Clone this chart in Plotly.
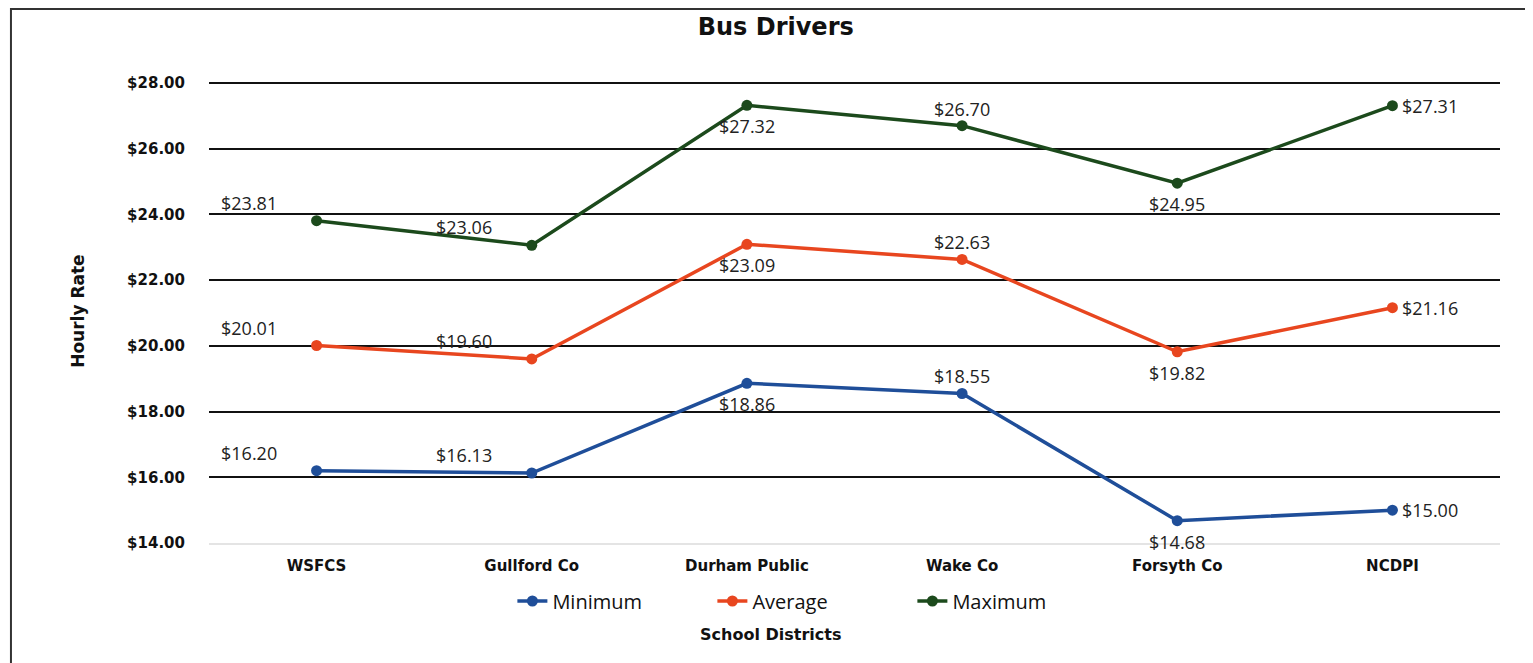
import plotly.graph_objects as go

# Bus driver hourly rates by school district
districts = ["WSFCS", "Gullford Co", "Durham Public", "Wake Co", "Forsyth Co", "NCDPI"]
minimum = [16.20, 16.13, 18.86, 18.55, 14.68, 15.00]
average = [20.01, 19.60, 23.09, 22.63, 19.82, 21.16]
maximum = [23.81, 23.06, 27.32, 26.70, 24.95, 27.31]
y_ticks = [14, 16, 18, 20, 22, 24, 26, 28]

# where each data label sits relative to its point
label_pos = ["tl", "tl", "b", "t", "b", "r"]
shifts = {"tl": (-68, 18), "b": (0, -21), "t": (0, 17), "r": (38, 0)}

series = [
    ("Minimum", minimum, "#1f4e99"),
    ("Average", average, "#e8461f"),
    ("Maximum", maximum, "#1c4a1c"),
]

fig = go.Figure()
annotations = []
for name, vals, color in series:
    fig.add_trace(go.Scatter(
        x=districts, y=vals, mode="lines+markers", name=name,
        line=dict(color=color, width=3.5),
        marker=dict(color=color, size=11),
    ))
    for d, v, p in zip(districts, vals, label_pos):
        dx, dy = shifts[p]
        annotations.append(dict(
            x=d, y=v, xref="x", yref="y", text=f"${v:.2f}", showarrow=False,
            xshift=dx, yshift=dy,
            font=dict(family="Open Sans", size=18, color="#222222"),
        ))

# axis titles placed by hand so they centre on the whole chart box
annotations.append(dict(
    x=0.435, y=-0.1987, xref="paper", yref="paper", text="<b>School Districts</b>",
    showarrow=False, yanchor="middle",
    font=dict(family="DejaVu Sans", size=16, color="#111111"),
))
annotations.append(dict(
    x=-0.102, y=0.5, xref="paper", yref="paper", text="<b>Hourly Rate</b>",
    showarrow=False, textangle=-90, xanchor="center", yanchor="middle",
    font=dict(family="DejaVu Sans", size=17, color="#111111"),
))

fig.update_layout(
    width=1525, height=655,
    margin=dict(l=201, r=33, t=72, b=120),
    paper_bgcolor="white", plot_bgcolor="white",
    title=dict(text="<b>Bus Drivers</b>", x=0.439, xref="paper", xanchor="center",
               y=0.971, yanchor="middle",
               font=dict(family="DejaVu Sans", size=24, color="#111111")),
    showlegend=True,
    legend=dict(orientation="h", x=0.235, xanchor="left", y=-0.1253, yanchor="middle",
                entrywidth=155, entrywidthmode="pixels",
                font=dict(family="Open Sans", size=20, color="#111111")),
    annotations=annotations,
    xaxis=dict(
        range=[-0.5, 5.5],
        showgrid=False, zeroline=False, showline=True, linecolor="#e4e4e4", linewidth=2,
        ticks="outside", ticklen=8, tickcolor="rgba(0,0,0,0)",
        tickfont=dict(family="DejaVu Sans", size=15, color="#111111"),
        tickvals=districts, ticktext=[f"<b>{d}</b>" for d in districts],
    ),
    yaxis=dict(
        range=[14, 28.09], tickvals=y_ticks, ticktext=[f"<b>${t:.2f}</b>" for t in y_ticks],
        showgrid=True, gridcolor="#111111", gridwidth=1.5, zeroline=False,
        ticks="outside", ticklen=20, tickcolor="rgba(0,0,0,0)",
        tickfont=dict(family="DejaVu Sans", size=15, color="#111111"),
    ),
    shapes=[dict(
        type="path", xref="paper", yref="paper",
        path="M -0.1534,-0.27 L -0.1534,1.1533 L 1.03,1.1533",
        line=dict(color="#333333", width=2),
    )],
)

fig.write_html("out.html")
